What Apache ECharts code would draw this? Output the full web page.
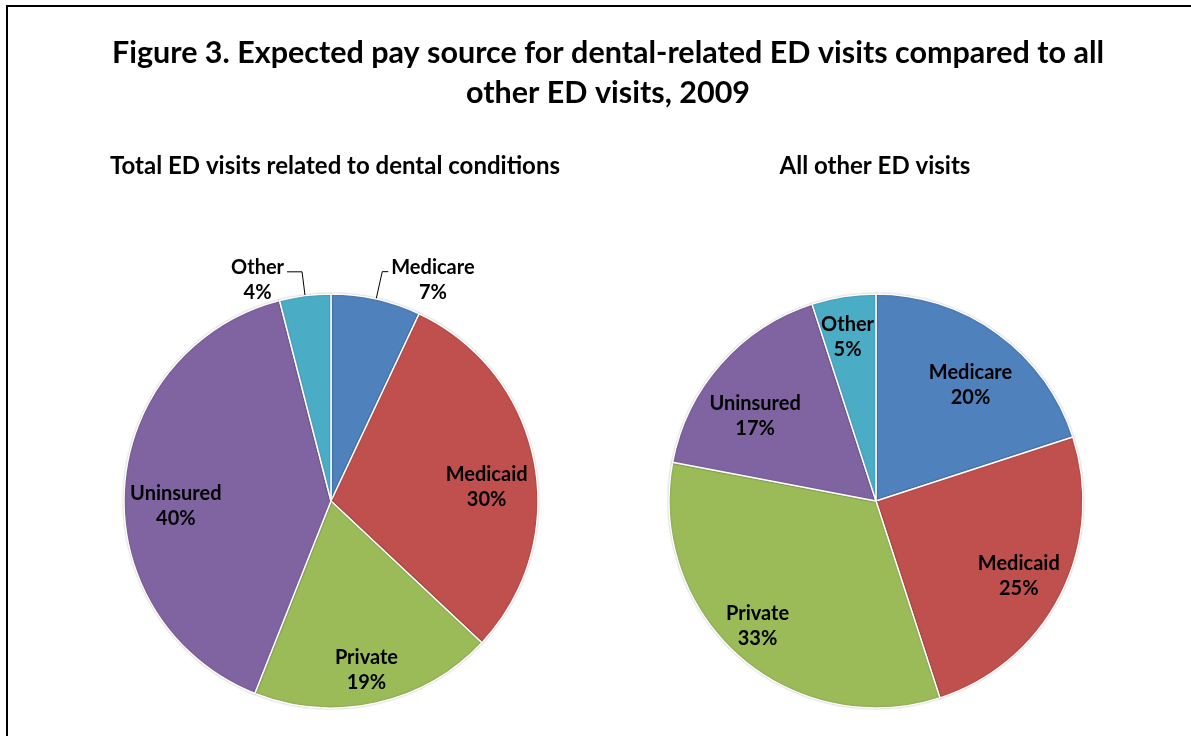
<!DOCTYPE html>
<html>
<head>
<meta charset="utf-8">
<script src="https://cdn.jsdelivr.net/npm/echarts@6/dist/echarts.min.js"></script>
<style>
html,body{margin:0;padding:0;background:#fff;}
#chart{width:1191px;height:736px;}
</style>
</head>
<body>
<div id="chart"></div>
<script>
// Data
const categories = ['Medicare', 'Medicaid', 'Private', 'Uninsured', 'Other'];
const dentalValues = [7, 30, 19, 40, 4];
const otherValues = [20, 25, 33, 17, 5];
const colors = ['#4F81BD', '#C0504D', '#9BBB59', '#8064A2', '#4BACC6'];
const dentalOutsideLabels = ['Medicare', 'Other'];

const titleText = 'Figure 3. Expected pay source for dental-related ED visits compared to all\nother ED visits, 2009';
const subtitle1 = 'Total ED visits related to dental conditions';
const subtitle2 = 'All other ED visits';

// Layout / style
const FONT = 'Lato';
const R = 207;
const R0 = 112;
const C1 = [331, 501];
const C2 = [876, 501];
// small label nudges (px) to mimic the original's label placement
const labelNudge = {
  1: { Medicaid: [-4, 16], Private: [0, 10], Uninsured: [7, 15] },
  3: { Medicare: [-1, 16], Medicaid: [-2, 1], Private: [-11, 3], Uninsured: [1, 23], Other: [-3, -3] }
};
const outsideLine = {
  Medicare: { length: 28, length2: 6 },
  Other: { length: 24, length2: 15 }
};

const chart = echarts.init(document.getElementById('chart'));

function mainData(values, outsideNames) {
  return categories.map((n, i) => {
    const out = outsideNames.indexOf(n) >= 0;
    return {
      name: n,
      value: values[i],
      itemStyle: { color: colors[i] },
      label: { show: out },
      labelLine: Object.assign({ show: out }, out ? outsideLine[n] : {})
    };
  });
}
function overlayData(values, outsideNames) {
  return categories.map((n, i) => ({
    name: n,
    value: values[i],
    label: { show: outsideNames.indexOf(n) < 0 }
  }));
}
function nudge(params) {
  const m = labelNudge[params.seriesIndex];
  const n = categories[params.dataIndex];
  if (m && m[n]) return { dx: m[n][0], dy: m[n][1] };
  return {};
}

const insideLabel = {
  position: 'inside',
  formatter: '{b}\n{c}%',
  color: '#000',
  fontFamily: FONT,
  fontWeight: 'bold',
  fontSize: 20,
  lineHeight: 25
};
const sliceStyle = {
  borderColor: '#fff', borderWidth: 1.5,
  shadowBlur: 2, shadowColor: 'rgba(0,0,0,0.25)'
};

const option = {
  backgroundColor: '#fff',
  animation: false,
  graphic: [{
    type: 'rect',
    shape: { x: 7, y: 6, width: 1400, height: 1000 },
    style: { fill: 'none', stroke: '#000', lineWidth: 2 },
    silent: true
  }],
  title: [
    {
      text: titleText,
      left: 603, textAlign: 'center',
      top: 28,
      textStyle: { fontFamily: FONT, fontWeight: 'bold', fontSize: 30.5, lineHeight: 40, color: '#000', align: 'center' }
    },
    {
      text: subtitle1, left: 330, textAlign: 'center', top: 149,
      textStyle: { fontFamily: FONT, fontWeight: 'bold', fontSize: 24, color: '#000' }
    },
    {
      text: subtitle2, left: 870, textAlign: 'center', top: 149,
      textStyle: { fontFamily: FONT, fontWeight: 'bold', fontSize: 24, color: '#000' }
    }
  ],
  series: [
    {
      type: 'pie', center: C1, radius: [0, R], startAngle: 90, clockwise: true,
      silent: true,
      itemStyle: sliceStyle,
      label: {
        position: 'outside',
        formatter: '{a|{b}}\n{a|{c}%}',
        distanceToLabelLine: 3,
        padding: [16, 0, 0, 0],
        rich: { a: { fontFamily: FONT, fontWeight: 'bold', fontSize: 20, lineHeight: 25, color: '#000', align: 'center' } }
      },
      labelLine: { lineStyle: { color: '#000', width: 1 } },
      data: mainData(dentalValues, dentalOutsideLabels)
    },
    {
      type: 'pie', center: C1, radius: [R0, R], startAngle: 90, clockwise: true,
      silent: true, z: 5,
      itemStyle: { color: 'rgba(0,0,0,0)' },
      label: insideLabel,
      labelLine: { show: false },
      labelLayout: nudge,
      data: overlayData(dentalValues, dentalOutsideLabels)
    },
    {
      type: 'pie', center: C2, radius: [0, R], startAngle: 90, clockwise: true,
      silent: true,
      itemStyle: sliceStyle,
      label: { show: false }, labelLine: { show: false },
      data: mainData(otherValues, [])
    },
    {
      type: 'pie', center: C2, radius: [R0, R], startAngle: 90, clockwise: true,
      silent: true, z: 5,
      itemStyle: { color: 'rgba(0,0,0,0)' },
      label: insideLabel,
      labelLine: { show: false },
      labelLayout: nudge,
      data: overlayData(otherValues, [])
    }
  ]
};
chart.setOption(option);
</script>
</body>
</html>
